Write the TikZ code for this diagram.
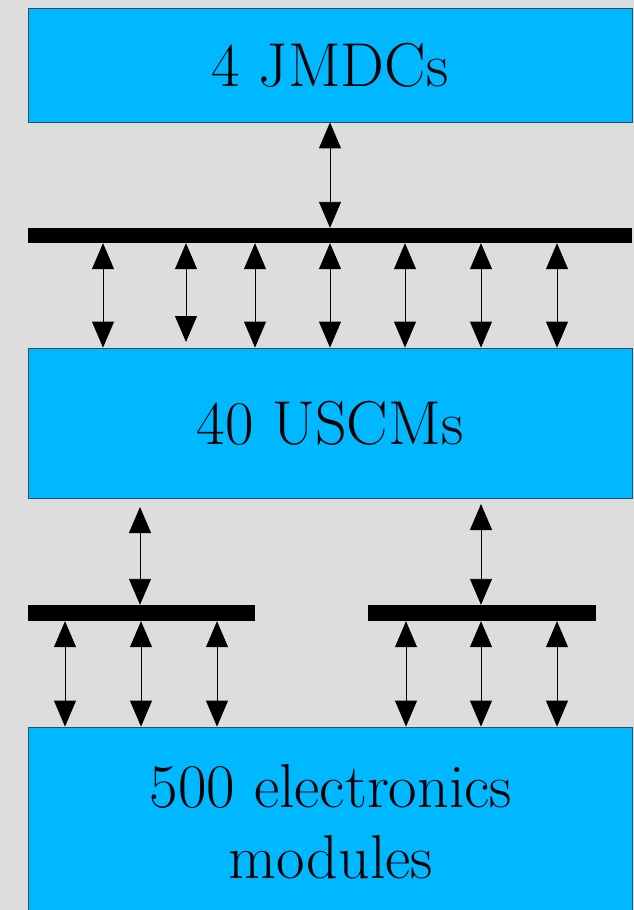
\documentclass[tikz,border=0pt]{standalone}
\usepackage{fontspec}
\usetikzlibrary{arrows.meta}
\definecolor{bg}{HTML}{DDDDDD}
\definecolor{boxblue}{HTML}{00B8FF}
\definecolor{boxedge}{HTML}{2F4F5F}
\begin{document}
\begin{tikzpicture}[x=1pt,y=-1pt,
  blk/.style={draw=boxedge, fill=boxblue, line width=0.8pt, minimum width=604pt, inner sep=0pt,
              font=\fontsize{62}{71}\selectfont, align=center},
  bus/.style={fill=black, inner sep=0pt},
  bigtext/.style={font=\fontsize{62}{71}\selectfont, align=center, inner sep=0pt},
  link/.style={line width=0.9pt, {Triangle[length=26pt,width=22pt]}-{Triangle[length=26pt,width=22pt]}}]
\useasboundingbox[fill=bg] (0,0) rectangle (634,910);
% boxes
\node[blk, minimum height=114pt] (jmdc) at (330,65) {4 JMDCs};
\node[blk, minimum height=150pt] (uscm) at (330,423) {40 USCMs};
\node[blk, minimum height=200pt] (mods) at (330,827) {};
\node[bigtext] (modtxt) at (331,822) {500 electronics\\modules};
% buses
\node[bus, minimum width=604pt, minimum height=15pt] (bus1) at (330,235.5) {};
\node[bus, minimum width=227pt, minimum height=16pt] (bus2a) at (141.5,613) {};
\node[bus, minimum width=228pt, minimum height=16pt] (bus2b) at (482,613) {};
% top link
\draw[link] (jmdc.south) -- (bus1.north);
% bus1 to USCMs
\foreach \i/\x in {1/103,3/255,4/330,5/405,6/481,7/557}{
  \coordinate (u\i) at (\x,0);
  \draw[link] (bus1.south -| u\i) -- (uscm.north -| u\i);
}
\coordinate (u2) at (186,0);
\coordinate (u2end) at (186,342);
\draw[link] (bus1.south -| u2) -- (u2end);
% USCMs to lower buses
\coordinate (la) at (140,507);
\coordinate (lb) at (481,504);
\draw[link] (la) -- (bus2a.north -| la);
\draw[link] (lb) -- (bus2b.north -| lb);
% lower buses to modules
\foreach \i/\x in {1/65,2/141,3/217}{
  \coordinate (ma\i) at (\x,0);
  \draw[link] (bus2a.south -| ma\i) -- (mods.north -| ma\i);
}
\foreach \i/\x in {1/406,2/481,3/557}{
  \coordinate (mb\i) at (\x,0);
  \draw[link] (bus2b.south -| mb\i) -- (mods.north -| mb\i);
}
\end{tikzpicture}
\end{document}
